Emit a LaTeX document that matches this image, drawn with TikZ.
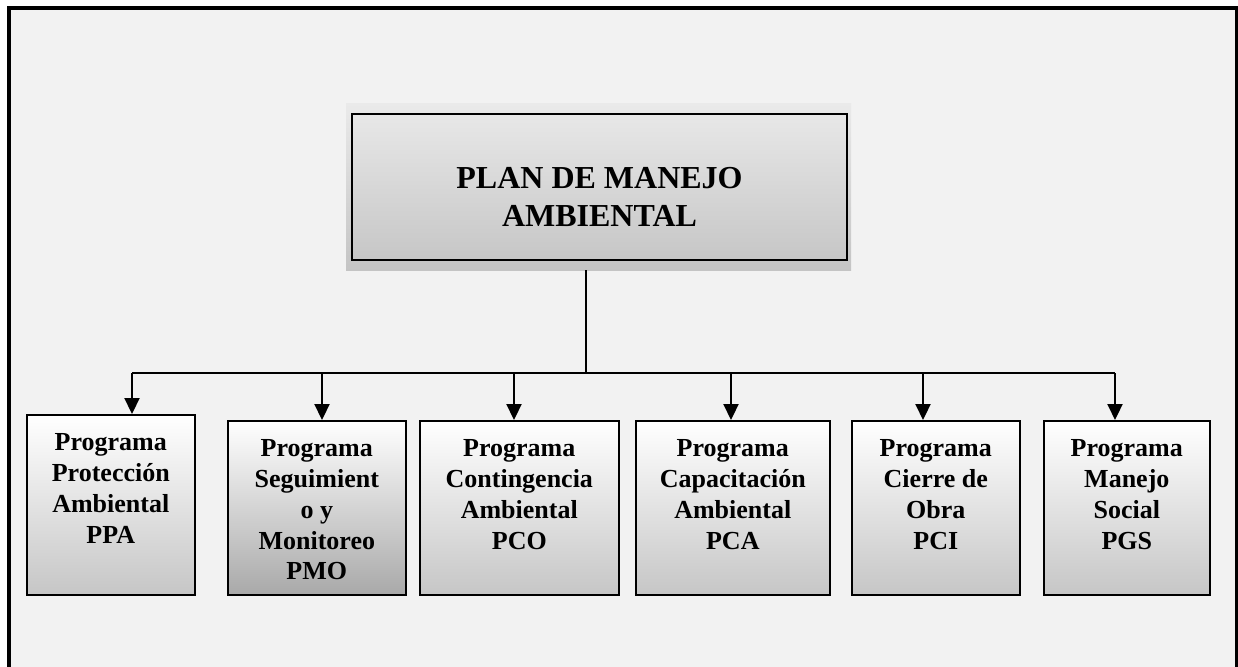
\documentclass[tikz,border=0pt]{standalone}
\usepackage{fontspec}
\setmainfont{Liberation Serif}
\usetikzlibrary{arrows.meta}
\definecolor{pagebg}{HTML}{F2F2F2}
\definecolor{plantop}{HTML}{EAEAEA}
\definecolor{planbot}{HTML}{C4C4C4}
\definecolor{progbot}{HTML}{C6C6C6}
\definecolor{progbotdark}{HTML}{A9A9A9}
\newcommand{\progtext}[3]{\begin{minipage}[c][#2pt][t]{#1pt}\centering\vspace*{19pt}#3\end{minipage}}
\tikzset{
  plantext/.style={font=\fontsize{32}{38}\selectfont\bfseries, align=center},
  planback/.style={anchor=north west, inner sep=0pt, top color=plantop, bottom color=planbot, draw=none},
  planbox/.style={anchor=north west, inner sep=0pt, draw=black, line width=2pt},
  prog/.style={anchor=north west, inner sep=0pt, draw=black, line width=1.6pt, top color=white, bottom color=progbot,
               font=\fontsize{26}{30.75}\selectfont\bfseries},
  conn/.style={line width=2.2pt, draw=black},
  arr/.style={conn, -{Triangle[width=15pt,length=16pt]}}
}
\begin{document}
\begin{tikzpicture}[x=1pt,y=-1pt]
\clip (0,0) rectangle (1238,666);
\fill[white] (0,0) rectangle (1238,666);
\draw[line width=4pt, fill=pagebg] (9,8) rectangle (1236.5,700);

% top box
\node[planback, minimum width=505pt, minimum height=167pt] (planbg) at (346,103) {};
\node[planbox, minimum width=495pt, minimum height=146pt] (plan) at (351,113) {};
\node[plantext, yshift=-10pt] (plantxt) at (plan.center) {PLAN DE MANEJO\\AMBIENTAL};

% program boxes
\node[prog] (b1) at (26,414) {\progtext{168}{180}{Programa\\Protección\\Ambiental\\PPA}};
\node[prog, bottom color=progbotdark] (b2) at (227,420) {\progtext{178}{174}{Programa\\Seguimient\\o y\\Monitoreo\\PMO}};
\node[prog] (b3) at (419,420) {\progtext{199}{174}{Programa\\Contingencia\\Ambiental\\PCO}};
\node[prog] (b4) at (635,420) {\progtext{194}{174}{Programa\\Capacitación\\Ambiental\\PCA}};
\node[prog] (b5) at (851,420) {\progtext{168}{174}{Programa\\Cierre de\\Obra\\PCI}};
\node[prog] (b6) at (1043,420) {\progtext{166}{174}{Programa\\Manejo\\Social\\PGS}};

% connectors
\coordinate (hub) at (586,373);
\coordinate (j1) at (132,373);
\coordinate (j2) at (322,373);
\coordinate (j3) at (514,373);
\coordinate (j4) at (731,373);
\coordinate (j5) at (923,373);
\coordinate (j6) at (1115,373);
\draw[conn] (planbg.south -| hub) -- (hub);
\draw[conn] (j1) -- (j6);
\draw[arr] (j1) -- (j1 |- b1.north);
\draw[arr] (j2) -- (j2 |- b2.north);
\draw[arr] (j3) -- (j3 |- b3.north);
\draw[arr] (j4) -- (j4 |- b4.north);
\draw[arr] (j5) -- (j5 |- b5.north);
\draw[arr] (j6) -- (j6 |- b6.north);
\end{tikzpicture}
\end{document}
